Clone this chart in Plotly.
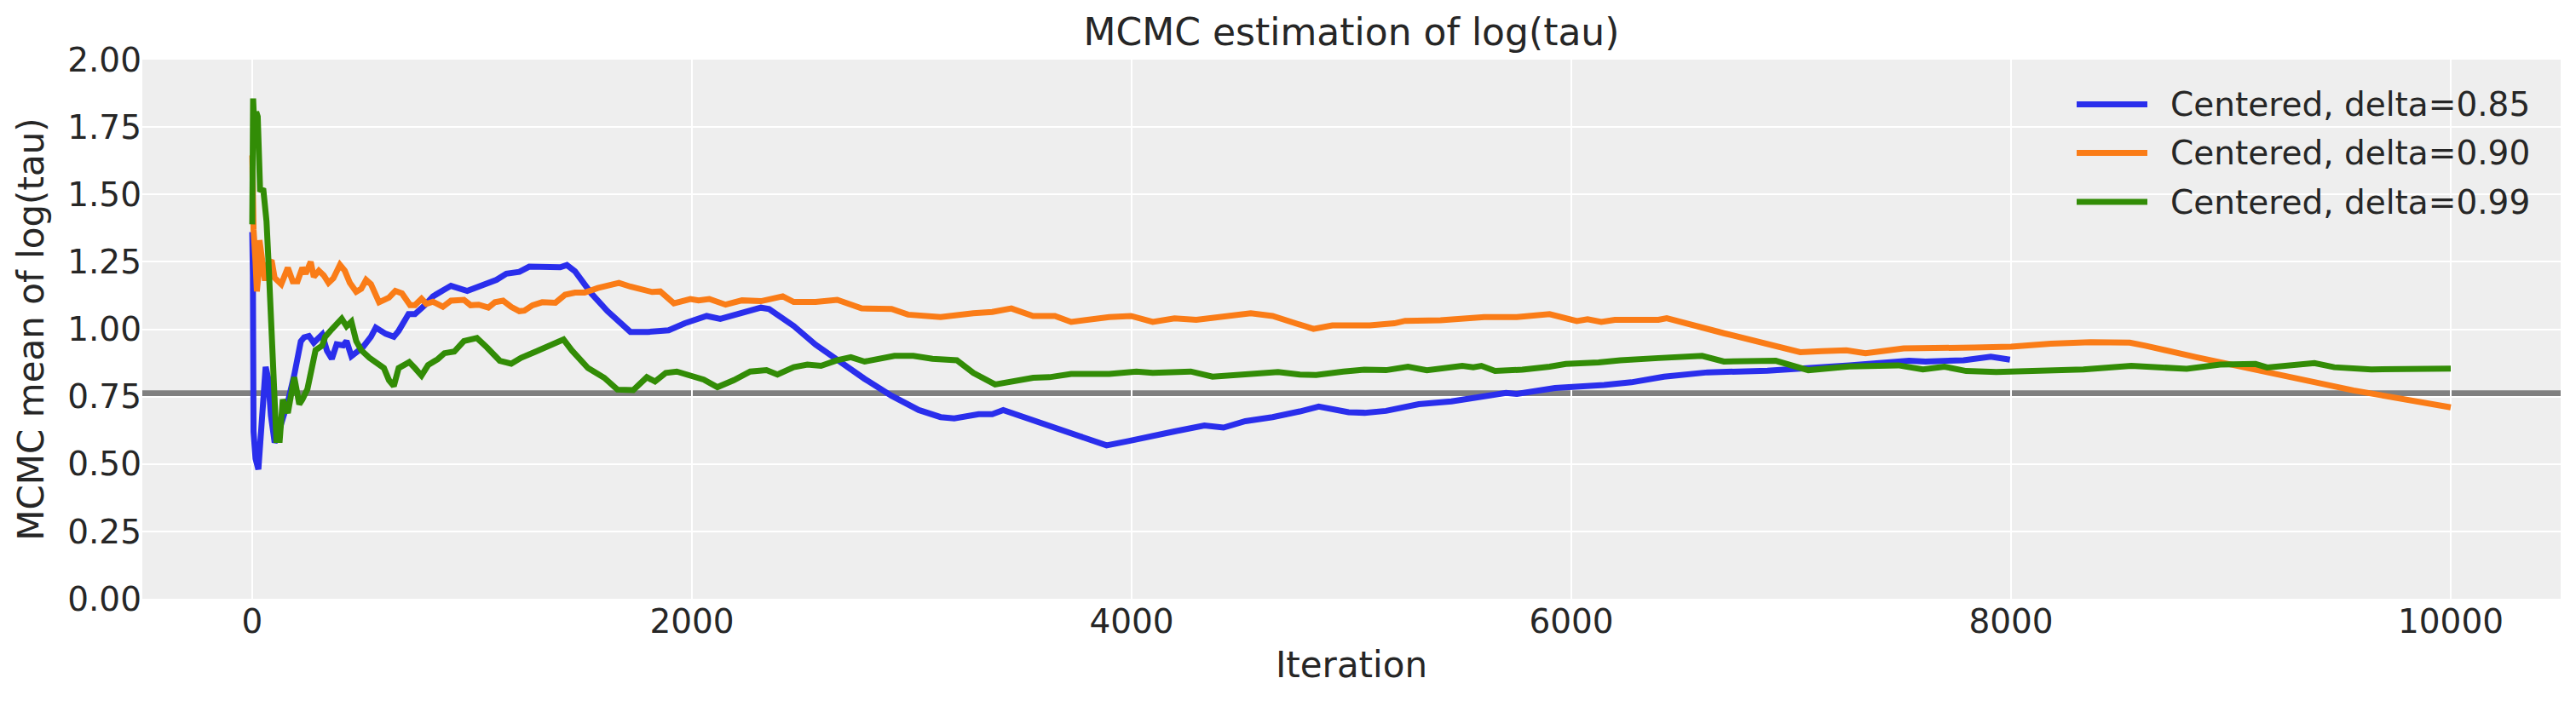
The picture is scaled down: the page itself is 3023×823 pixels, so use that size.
import plotly.graph_objects as go

# ---------------- data ----------------
iter_085 = [0, 3, 6, 15, 28, 40, 50, 61, 72, 85, 102, 115, 132, 162, 191, 221, 236, 258, 280, 318,
            340, 362, 384, 414, 429, 451, 503, 540, 562, 607, 644, 666, 711, 740, 785, 822, 867, 904,
            978, 1022, 1067, 1111, 1156, 1215, 1260, 1334, 1401, 1431, 1468, 1542, 1616, 1690, 1720,
            1800, 1894, 1968, 2067, 2129, 2215, 2314, 2351, 2463, 2562, 2661, 2785, 2908, 3032, 3131,
            3193, 3304, 3366, 3416, 3651, 3886, 3985, 4096, 4195, 4331, 4418, 4517, 4641, 4765, 4851,
            4987, 5060, 5157, 5306, 5455, 5604, 5703, 5752, 5926, 6149, 6273, 6421, 6620, 6892, 7066,
            7264, 7536, 7611, 7784, 7908, 7995]
mean_085 = [1.36, 1.20, 0.62, 0.52, 0.48, 0.62, 0.78, 0.86, 0.82, 0.68, 0.58, 0.60, 0.65, 0.73, 0.83,
            0.955, 0.97, 0.975, 0.95, 0.98, 0.92, 0.89, 0.944, 0.94, 0.956, 0.90, 0.933, 0.972, 1.006,
            0.983, 0.972, 0.994, 1.056, 1.056, 1.089, 1.122, 1.144, 1.161, 1.142, 1.156, 1.172, 1.183,
            1.206, 1.213, 1.232, 1.233, 1.230, 1.238, 1.215, 1.133, 1.067, 1.012, 0.99, 0.99, 0.996,
            1.022, 1.049, 1.038, 1.059, 1.08, 1.075, 1.012, 0.943, 0.885, 0.816, 0.753, 0.70, 0.674,
            0.669, 0.685, 0.685, 0.70, 0.632, 0.569, 0.585, 0.606, 0.621, 0.643, 0.635, 0.659, 0.674,
            0.695, 0.713, 0.692, 0.69, 0.697, 0.722, 0.732, 0.753, 0.764, 0.76, 0.782, 0.793, 0.803,
            0.824, 0.84, 0.846, 0.853, 0.866, 0.883, 0.88, 0.885, 0.898, 0.887]

iter_090 = [0, 3, 6, 15, 21, 28, 33, 43, 50, 58, 70, 88, 102, 132, 162, 184, 206, 228, 243, 266, 280,
            303, 325, 347, 369, 399, 421, 444, 473, 496, 518, 540, 577, 622, 651, 681, 718, 740, 770,
            792, 822, 867, 904, 963, 993, 1030, 1074, 1104, 1141, 1178, 1215, 1238, 1275, 1319, 1379,
            1423, 1468, 1512, 1572, 1616, 1668, 1720, 1819, 1856, 1918, 1993, 2030, 2079, 2153, 2228,
            2314, 2413, 2463, 2562, 2661, 2772, 2908, 2983, 3131, 3280, 3366, 3453, 3552, 3651, 3725,
            3898, 3997, 4096, 4195, 4294, 4393, 4542, 4641, 4827, 4913, 5083, 5195, 5244, 5405, 5529,
            5604, 5752, 5901, 6025, 6074, 6136, 6198, 6396, 6434, 6694, 7041, 7140, 7251, 7338, 7512,
            7834, 8000, 8181, 8361, 8540, 8611, 8843, 9201, 9558, 10000]
mean_090 = [1.645, 1.42, 1.37, 1.25, 1.14, 1.20, 1.33, 1.27, 1.20, 1.18, 1.24, 1.256, 1.19, 1.167,
            1.228, 1.178, 1.178, 1.228, 1.206, 1.25, 1.194, 1.217, 1.20, 1.172, 1.189, 1.239, 1.217,
            1.172, 1.139, 1.15, 1.183, 1.167, 1.10, 1.117, 1.142, 1.133, 1.089, 1.089, 1.113, 1.094,
            1.102, 1.083, 1.106, 1.109, 1.089, 1.091, 1.08, 1.10, 1.106, 1.083, 1.067, 1.069, 1.089,
            1.10, 1.098, 1.128, 1.136, 1.136, 1.153, 1.164, 1.172, 1.158, 1.138, 1.14, 1.096, 1.112,
            1.107, 1.112, 1.091, 1.107, 1.104, 1.122, 1.101, 1.101, 1.109, 1.077, 1.075, 1.054, 1.045,
            1.059, 1.064, 1.077, 1.049, 1.049, 1.027, 1.045, 1.049, 1.027, 1.04, 1.035, 1.045, 1.059,
            1.049, 1.001, 1.014, 1.014, 1.022, 1.031, 1.033, 1.038, 1.045, 1.045, 1.056, 1.03, 1.037,
            1.027, 1.035, 1.035, 1.041, 0.985, 0.915, 0.919, 0.922, 0.911, 0.929, 0.932, 0.935, 0.946,
            0.952, 0.95, 0.939, 0.896, 0.836, 0.773, 0.71]

iter_099 = [0, 4, 10, 18, 25, 30, 36, 50, 65, 73, 80, 95, 110, 125, 139, 162, 191, 214, 228, 251, 266,
            288, 318, 332, 362, 384, 407, 429, 451, 473, 496, 533, 570, 599, 622, 644, 666, 696, 714,
            740, 770, 800, 844, 874, 919, 963, 1022, 1067, 1126, 1178, 1223, 1290, 1334, 1371, 1416,
            1453, 1527, 1601, 1661, 1733, 1795, 1832, 1881, 1931, 2005, 2054, 2116, 2191, 2265, 2339,
            2389, 2463, 2525, 2587, 2661, 2723, 2785, 2846, 2921, 3007, 3094, 3205, 3280, 3379, 3453,
            3552, 3626, 3725, 3898, 4022, 4096, 4269, 4368, 4517, 4666, 4765, 4839, 4963, 5058, 5157,
            5257, 5343, 5504, 5554, 5591, 5653, 5777, 5901, 5975, 6124, 6223, 6396, 6496, 6595, 6694,
            6818, 6930, 7078, 7264, 7487, 7599, 7697, 7796, 7933, 8131, 8329, 8547, 8700, 8799, 8951,
            9112, 9165, 9380, 9470, 9639, 10000]
mean_099 = [1.389, 1.856, 1.744, 1.806, 1.789, 1.60, 1.511, 1.522, 1.40, 1.267, 1.122, 0.844, 0.589,
            0.589, 0.739, 0.689, 0.822, 0.722, 0.739, 0.778, 0.844, 0.922, 0.939, 0.972, 1.0, 1.017,
            1.039, 1.011, 1.028, 0.956, 0.922, 0.894, 0.872, 0.856, 0.811, 0.789, 0.856, 0.867, 0.878,
            0.856, 0.828, 0.867, 0.889, 0.911, 0.917, 0.956, 0.967, 0.933, 0.883, 0.872, 0.894, 0.917,
            0.933, 0.947, 0.962, 0.922, 0.856, 0.82, 0.776, 0.774, 0.822, 0.806, 0.838, 0.843, 0.824,
            0.813, 0.785, 0.811, 0.843, 0.848, 0.832, 0.859, 0.869, 0.864, 0.885, 0.896, 0.88, 0.89,
            0.901, 0.901, 0.89, 0.885, 0.838, 0.795, 0.806, 0.82, 0.822, 0.834, 0.834, 0.843, 0.838,
            0.843, 0.824, 0.834, 0.841, 0.832, 0.83, 0.843, 0.85, 0.848, 0.861, 0.848, 0.864, 0.859,
            0.864, 0.845, 0.85, 0.861, 0.871, 0.877, 0.885, 0.893, 0.896, 0.901, 0.88, 0.88, 0.883,
            0.848, 0.862, 0.866, 0.851, 0.861, 0.845, 0.841, 0.845, 0.851, 0.864, 0.858, 0.853, 0.869,
            0.871, 0.858, 0.874, 0.859, 0.851, 0.854]

true_log_tau = 0.7626

series_names = ["Centered, delta=0.85", "Centered, delta=0.90", "Centered, delta=0.99"]
series_colors = ["#2a2eec", "#fa7c17", "#328c06"]
x_ticks = [0, 2000, 4000, 6000, 8000, 10000]
x_tick_labels = ["0", "2000", "4000", "6000", "8000", "10000"]
y_ticks = [0.0, 0.25, 0.5, 0.75, 1.0, 1.25, 1.5, 1.75, 2.0]
y_tick_labels = ["0.00", "0.25", "0.50", "0.75", "1.00", "1.25", "1.50", "1.75", "2.00"]

# ---------------- figure ----------------
W, H = 3023, 823
L, R, T, B = 167, 18, 70, 120
PW, PH = W - L - R, H - T - B
FONT = "DejaVu Sans"
TXT = "#262626"

def px_x(px):
    return (px - L) / PW

def px_y(py):
    return (H - B - py) / PH

fig = go.Figure()
for xs, ys, name, col in zip([iter_085, iter_090, iter_099],
                             [mean_085, mean_090, mean_099],
                             series_names, series_colors):
    fig.add_trace(go.Scatter(x=xs, y=ys, mode="lines", name=name,
                             line=dict(color=col, width=7), showlegend=False))

shapes = [dict(type="line", xref="paper", yref="y", x0=0, x1=1,
               y0=true_log_tau, y1=true_log_tau,
               line=dict(color="#808080", width=7), layer="below")]
annotations = []
leg_rows = [122.5, 179.5, 237.0]
for name, col, ry in zip(series_names, series_colors, leg_rows):
    shapes.append(dict(type="line", xref="paper", yref="paper",
                       x0=px_x(2437), x1=px_x(2520), y0=px_y(ry), y1=px_y(ry),
                       line=dict(color=col, width=7)))
    annotations.append(dict(xref="paper", yref="paper", x=px_x(2545), y=px_y(ry),
                            xanchor="left", yanchor="middle", showarrow=False,
                            text=name, font=dict(family=FONT, size=39, color=TXT)))

fig.update_layout(
    width=W, height=H,
    margin=dict(l=L, r=R, t=T, b=B, pad=0),
    paper_bgcolor="white", plot_bgcolor="#eeeeee",
    font=dict(family=FONT, color=TXT),
    title=dict(text="MCMC estimation of log(tau)", x=0.5, xref="paper", xanchor="center",
               y=1 - 37.5 / H, yref="container", yanchor="middle",
               font=dict(family=FONT, size=44, color=TXT)),
    shapes=shapes, annotations=annotations,
    showlegend=False,
)
fig.update_xaxes(range=[-500, 10500], tickvals=x_ticks, ticktext=x_tick_labels, ticks="",
                 showline=False, zeroline=False, gridcolor="white", gridwidth=2,
                 tickfont=dict(family=FONT, size=39, color=TXT),
                 title=dict(text="Iteration", font=dict(family=FONT, size=42, color=TXT), standoff=14))
fig.update_yaxes(range=[0, 2], tickvals=y_ticks, ticktext=y_tick_labels, ticks="",
                 showline=False, zeroline=False, gridcolor="white", gridwidth=2,
                 tickfont=dict(family=FONT, size=39, color=TXT),
                 title=dict(text="MCMC mean of log(tau)", font=dict(family=FONT, size=42, color=TXT),
                            standoff=14))

fig.write_html("out.html")
